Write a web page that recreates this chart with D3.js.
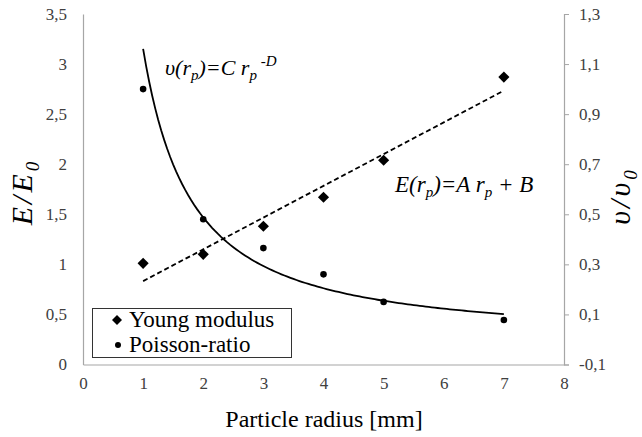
<!DOCTYPE html>
<html><head><meta charset="utf-8">
<script src="https://d3js.org/d3.v7.min.js"></script>
<style>
@font-face{font-family:"ChartSerif";font-style:normal;src:local("Liberation Serif"),local("LiberationSerif"),local("Times New Roman");}
@font-face{font-family:"ChartSerif";font-style:italic;src:local("Liberation Serif Italic"),local("LiberationSerif-Italic"),local("Times New Roman Italic");}
.ser{font-family:"Liberation Serif";}
</style>
</head><body style="margin:0">
<script>
const radius = [1, 2, 3, 4, 5, 7];
const young = [1.01, 1.10, 1.38, 1.67, 2.04, 2.87];
const poisson = [1.00, 0.48, 0.365, 0.26, 0.15, 0.078];
const xTicks = [0, 1, 2, 3, 4, 5, 6, 7, 8];
const leftTicks = [0, 0.5, 1, 1.5, 2, 2.5, 3, 3.5];
const rightTicks = [-0.1, 0.1, 0.3, 0.5, 0.7, 0.9, 1.1, 1.3];
const legendLabels = ["Young modulus", "Poisson-ratio"];

const W = 642, H = 437;
const svg = d3.select("body").append("svg").attr("width", W).attr("height", H);
const x = d3.scaleLinear().domain([0, 8]).range([83, 564]);
const yL = d3.scaleLinear().domain([0, 3.5]).range([364.5, 14]);
const yR = d3.scaleLinear().domain([-0.1, 1.3]).range([364.5, 14]);
const fmt = v => String(Math.round(v * 10) / 10).replace(".", ",");
const grey = "#a6a6a6";
const serif = sel => sel.style("font-family", "'Liberation Serif'");

const gx = svg.append("g").attr("transform", "translate(0,364.5)")
  .call(d3.axisBottom(x).tickValues(xTicks).tickSize(0).tickPadding(12).tickFormat(d => d));
const gl = svg.append("g").attr("transform", "translate(83,0)")
  .call(d3.axisLeft(yL).tickValues(leftTicks).tickSize(0).tickPadding(16).tickFormat(fmt));
const gr = svg.append("g").attr("transform", "translate(564,0)")
  .call(d3.axisRight(yR).tickValues(rightTicks).tickSize(5).tickPadding(10).tickFormat(fmt));
[gx, gl, gr].forEach(g => {
  g.select(".domain").attr("stroke", grey).attr("stroke-width", 1.2);
  g.selectAll(".tick line").attr("stroke", grey);
  serif(g.selectAll(".tick text")).style("font-size", "17px").style("fill", "#404040");
});

// linear trend line (least squares) for Young modulus
const mx = d3.mean(radius), myy = d3.mean(young);
const slope = d3.sum(radius, (r, i) => (r - mx) * (young[i] - myy)) / d3.sum(radius, r => (r - mx) ** 2);
const icpt = myy - slope * mx;
const xr = d3.extent(radius);
svg.append("line")
  .attr("x1", x(xr[0])).attr("y1", yL(icpt + slope * xr[0]))
  .attr("x2", x(xr[1])).attr("y2", yL(icpt + slope * xr[1]))
  .attr("stroke", "#000").attr("stroke-width", 1.8).attr("stroke-dasharray", "5,3");

// power trend line (log-log least squares) for Poisson ratio
const lx = radius.map(Math.log), ly = poisson.map(Math.log);
const mlx = d3.mean(lx), mly = d3.mean(ly);
const pD = -d3.sum(lx, (v, i) => (v - mlx) * (ly[i] - mly)) / d3.sum(lx, v => (v - mlx) ** 2);
const pC = Math.exp(mly + pD * mlx);
const curveX = d3.range(xr[0], xr[1] + 0.001, 0.05);
svg.append("path").datum(curveX)
  .attr("d", d3.line().x(d => x(d)).y(d => yR(pC * Math.pow(d, -pD))))
  .attr("fill", "none").attr("stroke", "#000").attr("stroke-width", 1.8);

// markers
svg.selectAll(".yd").data(radius).enter().append("path")
  .attr("transform", (d, i) => `translate(${x(d)},${yL(young[i])}) rotate(45)`)
  .attr("d", d3.symbol(d3.symbolSquare, 62)).attr("fill", "#000");
svg.selectAll(".pd").data(radius).enter().append("circle")
  .attr("cx", d => x(d)).attr("cy", (d, i) => yR(poisson[i])).attr("r", 3.3).attr("fill", "#000");

// axis titles
serif(svg.append("text")).attr("x", 324).attr("y", 427).attr("text-anchor", "middle")
  .style("font-size", "24px").text("Particle radius [mm]");
const tl = serif(svg.append("text")).attr("transform", "translate(32,192) rotate(-90)")
  .attr("text-anchor", "middle").style("font-size", "30px").style("font-style", "italic")
  .style("letter-spacing", "3px");
tl.append("tspan").text("E/E");
tl.append("tspan").style("font-size", "19px").attr("dy", 7).text("0");
const tr = serif(svg.append("text")).attr("transform", "translate(630,196) rotate(-90)")
  .attr("text-anchor", "middle").style("font-size", "30px").style("font-style", "italic")
  .style("letter-spacing", "3px");
tr.append("tspan").text("υ/υ");
tr.append("tspan").style("font-size", "19px").attr("dy", 7).text("0");

// equations
const e1 = serif(svg.append("text")).attr("x", 395).attr("y", 192).style("font-size", "23px").style("font-style", "italic");
e1.append("tspan").text("E(r");
e1.append("tspan").style("font-size", "15px").attr("dy", 5).text("p");
e1.append("tspan").attr("dy", -5).text(")=A r");
e1.append("tspan").style("font-size", "15px").attr("dy", 5).text("p");
e1.append("tspan").attr("dy", -5).text(" + B");
const e2 = serif(svg.append("text")).attr("x", 165).attr("y", 75).style("font-size", "22px").style("font-style", "italic");
e2.append("tspan").text("υ(r");
e2.append("tspan").style("font-size", "15px").attr("dy", 5).text("p");
e2.append("tspan").attr("dy", -5).text(")=C r");
e2.append("tspan").style("font-size", "15px").attr("dy", 5).text("p");
e2.append("tspan").style("font-size", "15px").attr("dy", -14).text(" -D");

// legend
const lg = svg.append("g");
lg.append("rect").attr("x", 92.5).attr("y", 308.5).attr("width", 199).attr("height", 49)
  .attr("fill", "#fff").attr("stroke", "#333").attr("stroke-width", 1);
lg.append("path").attr("transform", "translate(117,320) rotate(45)").attr("d", d3.symbol(d3.symbolSquare, 50)).attr("fill", "#000");
lg.append("circle").attr("cx", 118).attr("cy", 345).attr("r", 3).attr("fill", "#000");
serif(lg.selectAll(".lt").data(legendLabels).enter().append("text"))
  .attr("x", 129).attr("y", (d, i) => 327 + i * 25).style("font-size", "23px").text(d => d);
</script>
</body></html>
